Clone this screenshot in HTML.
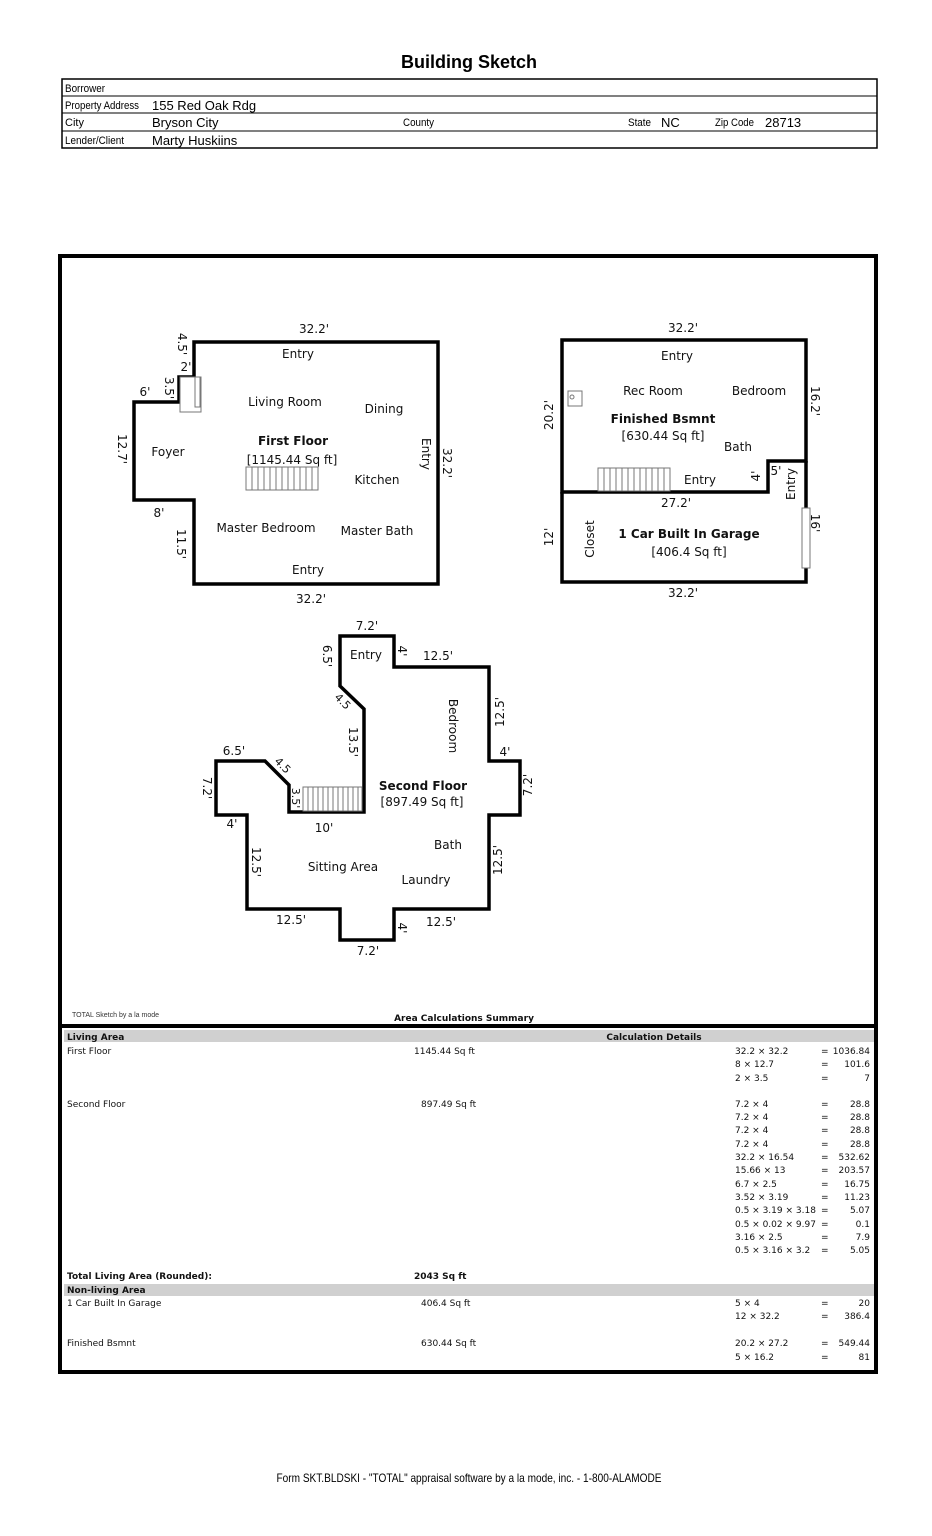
<!DOCTYPE html>
<html><head><meta charset="utf-8"><style>
html,body{margin:0;padding:0;background:#fff;}
svg{display:block;}
.lb{font-family:"Liberation Sans",sans-serif;font-size:11px;}
.v{font-family:"Liberation Sans",sans-serif;font-size:13px;}
.p{font-family:"DejaVu Sans",sans-serif;font-size:12px;fill:#111;}
.pb{font-family:"DejaVu Sans",sans-serif;font-size:12px;font-weight:bold;fill:#111;}
.t{font-family:"DejaVu Sans",sans-serif;font-size:9px;fill:#111;}
.tb{font-family:"DejaVu Sans",sans-serif;font-size:9px;font-weight:bold;fill:#111;}
.w{fill:none;stroke:#000;stroke-width:3.5;stroke-linejoin:miter;}
.s{fill:#fff;stroke:#777;stroke-width:1;}
</style></head><body>
<svg width="932" height="1536" viewBox="0 0 932 1536" xmlns="http://www.w3.org/2000/svg">
<text x="469" y="68" text-anchor="middle" font-family="Liberation Sans,sans-serif" font-size="18" font-weight="bold">Building Sketch</text>
<rect x="62" y="79" width="815" height="69" fill="none" stroke="#000" stroke-width="1.5"/>
<line x1="62" y1="96" x2="877" y2="96" stroke="#000"/>
<line x1="62" y1="113" x2="877" y2="113" stroke="#000"/>
<line x1="62" y1="131" x2="877" y2="131" stroke="#000"/>
<g class="lb">
<text x="65" y="92" textLength="40" lengthAdjust="spacingAndGlyphs">Borrower</text>
<text x="65" y="109" textLength="74" lengthAdjust="spacingAndGlyphs">Property Address</text>
<text x="65" y="126">City</text>
<text x="65" y="144" textLength="59" lengthAdjust="spacingAndGlyphs">Lender/Client</text>
<text x="403" y="126" textLength="31" lengthAdjust="spacingAndGlyphs">County</text>
<text x="628" y="126" textLength="23" lengthAdjust="spacingAndGlyphs">State</text>
<text x="715" y="126" textLength="39" lengthAdjust="spacingAndGlyphs">Zip Code</text>
</g>
<g class="v">
<text x="152" y="110">155 Red Oak Rdg</text>
<text x="152" y="127">Bryson City</text>
<text x="661" y="127">NC</text>
<text x="765" y="127">28713</text>
<text x="152" y="145">Marty Huskiins</text>
</g>
<rect x="60" y="256" width="816" height="1116" fill="none" stroke="#000" stroke-width="4"/>
<line x1="60" y1="1026" x2="876" y2="1026" stroke="#000" stroke-width="4"/>
<rect x="64" y="1030" width="810" height="12" fill="#d0d0d0"/>
<rect x="64" y="1284" width="810" height="12" fill="#d0d0d0"/>

<polygon class="w" points="194,342 438,342 438,584 194,584 194,500 134,500 134,402 179,402 179,377 194,377"/>
<rect class="s" x="180" y="377" width="21" height="35"/>
<rect class="s" x="195" y="377" width="5" height="30"/>
<g>
<rect class="s" x="246" y="467" width="72" height="23"/>
<path d="M252,467V490M258,467V490M264,467V490M270,467V490M276,467V490M282,467V490M288,467V490M294,467V490M300,467V490M306,467V490M312,467V490" stroke="#777" stroke-width="1"/>
</g>
<g class="p">
<text x="314" y="333" text-anchor="middle">32.2'</text>
<text x="298" y="358" text-anchor="middle">Entry</text>
<text x="285" y="406" text-anchor="middle">Living Room</text>
<text x="384" y="413" text-anchor="middle">Dining</text>
<text x="168" y="456" text-anchor="middle">Foyer</text>
<text x="292" y="464" text-anchor="middle">[1145.44 Sq ft]</text>
<text x="377" y="484" text-anchor="middle">Kitchen</text>
<text x="266" y="532" text-anchor="middle">Master Bedroom</text>
<text x="377" y="535" text-anchor="middle">Master Bath</text>
<text x="308" y="574" text-anchor="middle">Entry</text>
<text x="311" y="603" text-anchor="middle">32.2'</text>
<text x="145" y="396" text-anchor="middle">6'</text>
<text x="186" y="371" text-anchor="middle">2'</text>
<text x="159" y="517" text-anchor="middle">8'</text>
<text transform="translate(178,344) rotate(90)" text-anchor="middle">4.5'</text>
<text transform="translate(165,388) rotate(90)" text-anchor="middle">3.5'</text>
<text transform="translate(118,449) rotate(90)" text-anchor="middle">12.7'</text>
<text transform="translate(177,544) rotate(90)" text-anchor="middle">11.5'</text>
<text transform="translate(422,454) rotate(90)" text-anchor="middle">Entry</text>
<text transform="translate(443,463) rotate(90)" text-anchor="middle">32.2'</text>
</g>
<text class="pb" x="293" y="445" text-anchor="middle">First Floor</text>

<polygon class="w" points="562,340 806,340 806,461 768,461 768,492 562,492"/>
<polyline class="w" points="562,492 562,582 806,582 806,461"/>
<rect class="s" x="802" y="508" width="8" height="60"/>
<rect class="s" x="568" y="391" width="14" height="15"/>
<circle cx="572" cy="397" r="2" fill="none" stroke="#777"/>
<g>
<rect class="s" x="598" y="468" width="72" height="23"/>
<path d="M604,468V491M610,468V491M616,468V491M622,468V491M628,468V491M634,468V491M640,468V491M646,468V491M652,468V491M658,468V491M664,468V491" stroke="#777" stroke-width="1"/>
</g>
<g class="p">
<text x="683" y="332" text-anchor="middle">32.2'</text>
<text x="677" y="360" text-anchor="middle">Entry</text>
<text x="653" y="395" text-anchor="middle">Rec Room</text>
<text x="759" y="395" text-anchor="middle">Bedroom</text>
<text x="663" y="440" text-anchor="middle">[630.44 Sq ft]</text>
<text x="738" y="451" text-anchor="middle">Bath</text>
<text x="700" y="484" text-anchor="middle">Entry</text>
<text x="776" y="475" text-anchor="middle">5'</text>
<text x="676" y="507" text-anchor="middle">27.2'</text>
<text x="689" y="556" text-anchor="middle">[406.4 Sq ft]</text>
<text x="683" y="597" text-anchor="middle">32.2'</text>
<text transform="translate(553,415) rotate(-90)" text-anchor="middle">20.2'</text>
<text transform="translate(553,537) rotate(-90)" text-anchor="middle">12'</text>
<text transform="translate(594,539) rotate(-90)" text-anchor="middle">Closet</text>
<text transform="translate(760,476) rotate(-90)" text-anchor="middle">4'</text>
<text transform="translate(795,484) rotate(-90)" text-anchor="middle">Entry</text>
<text transform="translate(811,401) rotate(90)" text-anchor="middle">16.2'</text>
<text transform="translate(811,523) rotate(90)" text-anchor="middle">16'</text>
</g>
<text class="pb" x="663" y="423" text-anchor="middle">Finished Bsmnt</text>
<text class="pb" x="689" y="538" text-anchor="middle">1 Car Built In Garage</text>

<polygon class="w" points="340,636 394,636 394,667 489,667 489,761 520,761 520,815 489,815 489,909 394,909 394,940 340,940 340,909 247,909 247,815 216,815 216,761 265,761 289,785 289,812 364,812 364,709 340,686"/>
<g>
<rect class="s" x="303" y="787" width="59" height="24"/>
<path d="M308,787V811M313,787V811M318,787V811M323,787V811M328,787V811M333,787V811M338,787V811M343,787V811M348,787V811M353,787V811M358,787V811" stroke="#777" stroke-width="1"/>
</g>
<g class="p">
<text x="367" y="630" text-anchor="middle">7.2'</text>
<text x="366" y="659" text-anchor="middle">Entry</text>
<text x="438" y="660" text-anchor="middle">12.5'</text>
<text x="234" y="755" text-anchor="middle">6.5'</text>
<text x="505" y="756" text-anchor="middle">4'</text>
<text x="422" y="806" text-anchor="middle">[897.49 Sq ft]</text>
<text x="324" y="832" text-anchor="middle">10'</text>
<text x="232" y="828" text-anchor="middle">4'</text>
<text x="448" y="849" text-anchor="middle">Bath</text>
<text x="343" y="871" text-anchor="middle">Sitting Area</text>
<text x="426" y="884" text-anchor="middle">Laundry</text>
<text x="291" y="924" text-anchor="middle">12.5'</text>
<text x="441" y="926" text-anchor="middle">12.5'</text>
<text x="368" y="955" text-anchor="middle">7.2'</text>
<text transform="translate(398,651) rotate(90)" text-anchor="middle">4'</text>
<text transform="translate(398,928) rotate(90)" text-anchor="middle">4'</text>
<text transform="translate(323,656) rotate(90)" text-anchor="middle">6.5'</text>
<text transform="translate(349,742) rotate(90)" text-anchor="middle">13.5'</text>
<text transform="translate(449,726) rotate(90)" text-anchor="middle">Bedroom</text>
<text transform="translate(203,788) rotate(90)" text-anchor="middle">7.2'</text>
<text transform="translate(252,862) rotate(90)" text-anchor="middle">12.5'</text>
<text transform="translate(292,798) rotate(90)" text-anchor="middle" font-size="11">3.5'</text>
<text transform="translate(504,712) rotate(-90)" text-anchor="middle">12.5'</text>
<text transform="translate(532,785) rotate(-90)" text-anchor="middle">7.2'</text>
<text transform="translate(502,860) rotate(-90)" text-anchor="middle">12.5'</text>
<text transform="translate(340,704) rotate(45)" text-anchor="middle" font-size="11">4.5</text>
<text transform="translate(280,768) rotate(45)" text-anchor="middle" font-size="11">4.5</text>
</g>
<text class="pb" x="423" y="790" text-anchor="middle">Second Floor</text>

<text x="72" y="1017" font-family="Liberation Sans,sans-serif" font-size="7" fill="#333">TOTAL Sketch by a la mode</text>
<text class="tb" x="464" y="1021" text-anchor="middle">Area Calculations Summary</text>
<text class="tb" x="67" y="1040">Living Area</text>
<text class="tb" x="654" y="1040" text-anchor="middle">Calculation Details</text>
<g class="t">
<text x="67" y="1054">First Floor</text>
<text x="414" y="1054">1145.44 Sq ft</text>
<text x="67" y="1107">Second Floor</text>
<text x="421" y="1107">897.49 Sq ft</text>
<text x="67" y="1306">1 Car Built In Garage</text>
<text x="421" y="1306">406.4 Sq ft</text>
<text x="67" y="1346">Finished Bsmnt</text>
<text x="421" y="1346">630.44 Sq ft</text>
</g>
<text class="tb" x="67" y="1279">Total Living Area (Rounded):</text>
<text class="tb" x="414" y="1279">2043 Sq ft</text>
<text class="tb" x="67" y="1293">Non-living Area</text>
<g class="t">
<text x="735" y="1054">32.2 × 32.2</text><text x="821" y="1054">=</text><text x="870" y="1054" text-anchor="end">1036.84</text>
<text x="735" y="1067">8 × 12.7</text><text x="821" y="1067">=</text><text x="870" y="1067" text-anchor="end">101.6</text>
<text x="735" y="1081">2 × 3.5</text><text x="821" y="1081">=</text><text x="870" y="1081" text-anchor="end">7</text>
<text x="735" y="1107">7.2 × 4</text><text x="821" y="1107">=</text><text x="870" y="1107" text-anchor="end">28.8</text>
<text x="735" y="1120">7.2 × 4</text><text x="821" y="1120">=</text><text x="870" y="1120" text-anchor="end">28.8</text>
<text x="735" y="1133">7.2 × 4</text><text x="821" y="1133">=</text><text x="870" y="1133" text-anchor="end">28.8</text>
<text x="735" y="1147">7.2 × 4</text><text x="821" y="1147">=</text><text x="870" y="1147" text-anchor="end">28.8</text>
<text x="735" y="1160">32.2 × 16.54</text><text x="821" y="1160">=</text><text x="870" y="1160" text-anchor="end">532.62</text>
<text x="735" y="1173">15.66 × 13</text><text x="821" y="1173">=</text><text x="870" y="1173" text-anchor="end">203.57</text>
<text x="735" y="1187">6.7 × 2.5</text><text x="821" y="1187">=</text><text x="870" y="1187" text-anchor="end">16.75</text>
<text x="735" y="1200">3.52 × 3.19</text><text x="821" y="1200">=</text><text x="870" y="1200" text-anchor="end">11.23</text>
<text x="735" y="1213">0.5 × 3.19 × 3.18</text><text x="821" y="1213">=</text><text x="870" y="1213" text-anchor="end">5.07</text>
<text x="735" y="1227">0.5 × 0.02 × 9.97</text><text x="821" y="1227">=</text><text x="870" y="1227" text-anchor="end">0.1</text>
<text x="735" y="1240">3.16 × 2.5</text><text x="821" y="1240">=</text><text x="870" y="1240" text-anchor="end">7.9</text>
<text x="735" y="1253">0.5 × 3.16 × 3.2</text><text x="821" y="1253">=</text><text x="870" y="1253" text-anchor="end">5.05</text>
<text x="735" y="1306">5 × 4</text><text x="821" y="1306">=</text><text x="870" y="1306" text-anchor="end">20</text>
<text x="735" y="1319">12 × 32.2</text><text x="821" y="1319">=</text><text x="870" y="1319" text-anchor="end">386.4</text>
<text x="735" y="1346">20.2 × 27.2</text><text x="821" y="1346">=</text><text x="870" y="1346" text-anchor="end">549.44</text>
<text x="735" y="1360">5 × 16.2</text><text x="821" y="1360">=</text><text x="870" y="1360" text-anchor="end">81</text>
</g>
<text x="469" y="1482" text-anchor="middle" font-family="Liberation Sans,sans-serif" font-size="12" textLength="385" lengthAdjust="spacingAndGlyphs">Form SKT.BLDSKI - "TOTAL" appraisal software by a la mode, inc. - 1-800-ALAMODE</text>
</svg>
</body></html>
